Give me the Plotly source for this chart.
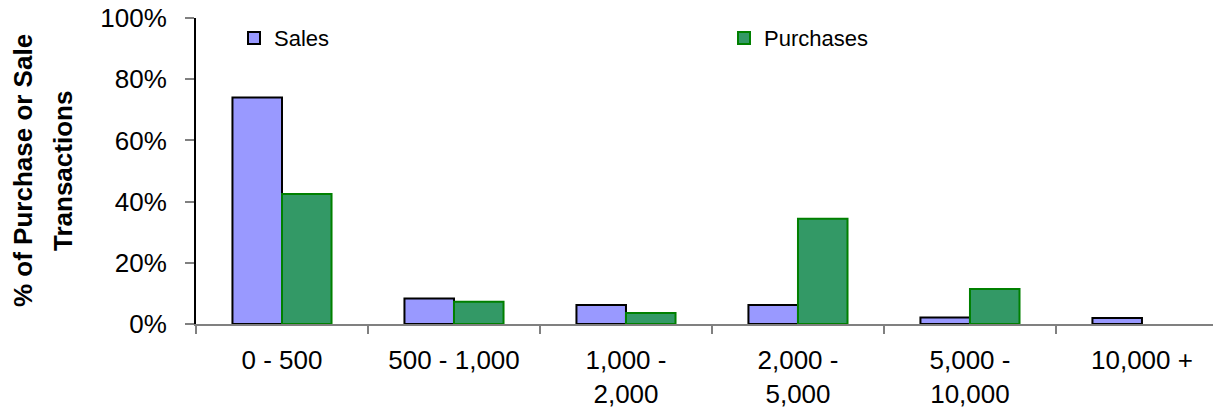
import plotly.graph_objects as go

categories = ["0 - 500", "500 - 1,000", "1,000 -<br>2,000", "2,000 -<br>5,000", "5,000 -<br>10,000", "10,000 +"]
sales = [0.74, 0.083, 0.062, 0.062, 0.021, 0.02]
purchases = [0.425, 0.073, 0.036, 0.344, 0.114, None]
y_ticks = [0, 0.2, 0.4, 0.6, 0.8, 1.0]
y_tick_labels = ["0%", "20%", "40%", "60%", "80%", "100%"]

W, H = 1213, 409
L, R, T, B = 196, 0, 18, 85
PW = W - L - R
font = "Liberation Sans, Arial, sans-serif"

fig = go.Figure()
fig.add_trace(go.Bar(x=categories, y=sales, name="Sales",
                     marker=dict(color="#9999FF", line=dict(color="#000000", width=2))))
fig.add_trace(go.Bar(x=categories, y=purchases, name="Purchases",
                     marker=dict(color="#339966", line=dict(color="#008000", width=2))))

fig.update_layout(
    width=W, height=H,
    margin=dict(l=L, r=R, t=T, b=B, pad=0, autoexpand=False),
    paper_bgcolor="white", plot_bgcolor="white",
    barmode="group", bargap=0.424, bargroupgap=0,
    font=dict(family=font, size=26, color="#000000"),
    showlegend=True,
    legend=dict(orientation="h", x=(234 - L) / PW, xanchor="left", y=1.003, yanchor="top",
                entrywidth=445, entrywidthmode="pixels", itemwidth=30,
                bgcolor="rgba(0,0,0,0)", font=dict(size=22), traceorder="normal"),
    xaxis=dict(range=[-0.5, 5.413], showline=True, linecolor="#808080", linewidth=2,
               ticks="outside", tickson="boundaries", ticklen=8, tickcolor="#808080", tickwidth=2,
               showgrid=False, zeroline=False, ticklabelstandoff=12, fixedrange=True,
               automargin=False, tickfont=dict(size=26), ticklabeloverflow="allow"),
    yaxis=dict(range=[0, 1.0], tickvals=y_ticks, ticktext=y_tick_labels,
               showline=True, linecolor="#000000", linewidth=2,
               ticks="outside", ticklen=9, tickcolor="#808080", tickwidth=2,
               showgrid=False, zeroline=False, ticklabelstandoff=13, fixedrange=True,
               automargin=False, tickfont=dict(size=26), ticklabeloverflow="allow"),
)

fig.add_annotation(text="<b>% of Purchase or Sale</b>", xref="paper", yref="paper",
                   x=(23 - L) / PW, y=0.5, textangle=-90,
                   showarrow=False, font=dict(size=26), xanchor="center", yanchor="middle")
fig.add_annotation(text="<b>Transactions</b>", xref="paper", yref="paper",
                   x=(63 - L) / PW, y=0.5, textangle=-90,
                   showarrow=False, font=dict(size=26), xanchor="center", yanchor="middle")

fig.write_html("out.html", config={"displayModeBar": False},
               post_script="document.body.style.margin='0';")
